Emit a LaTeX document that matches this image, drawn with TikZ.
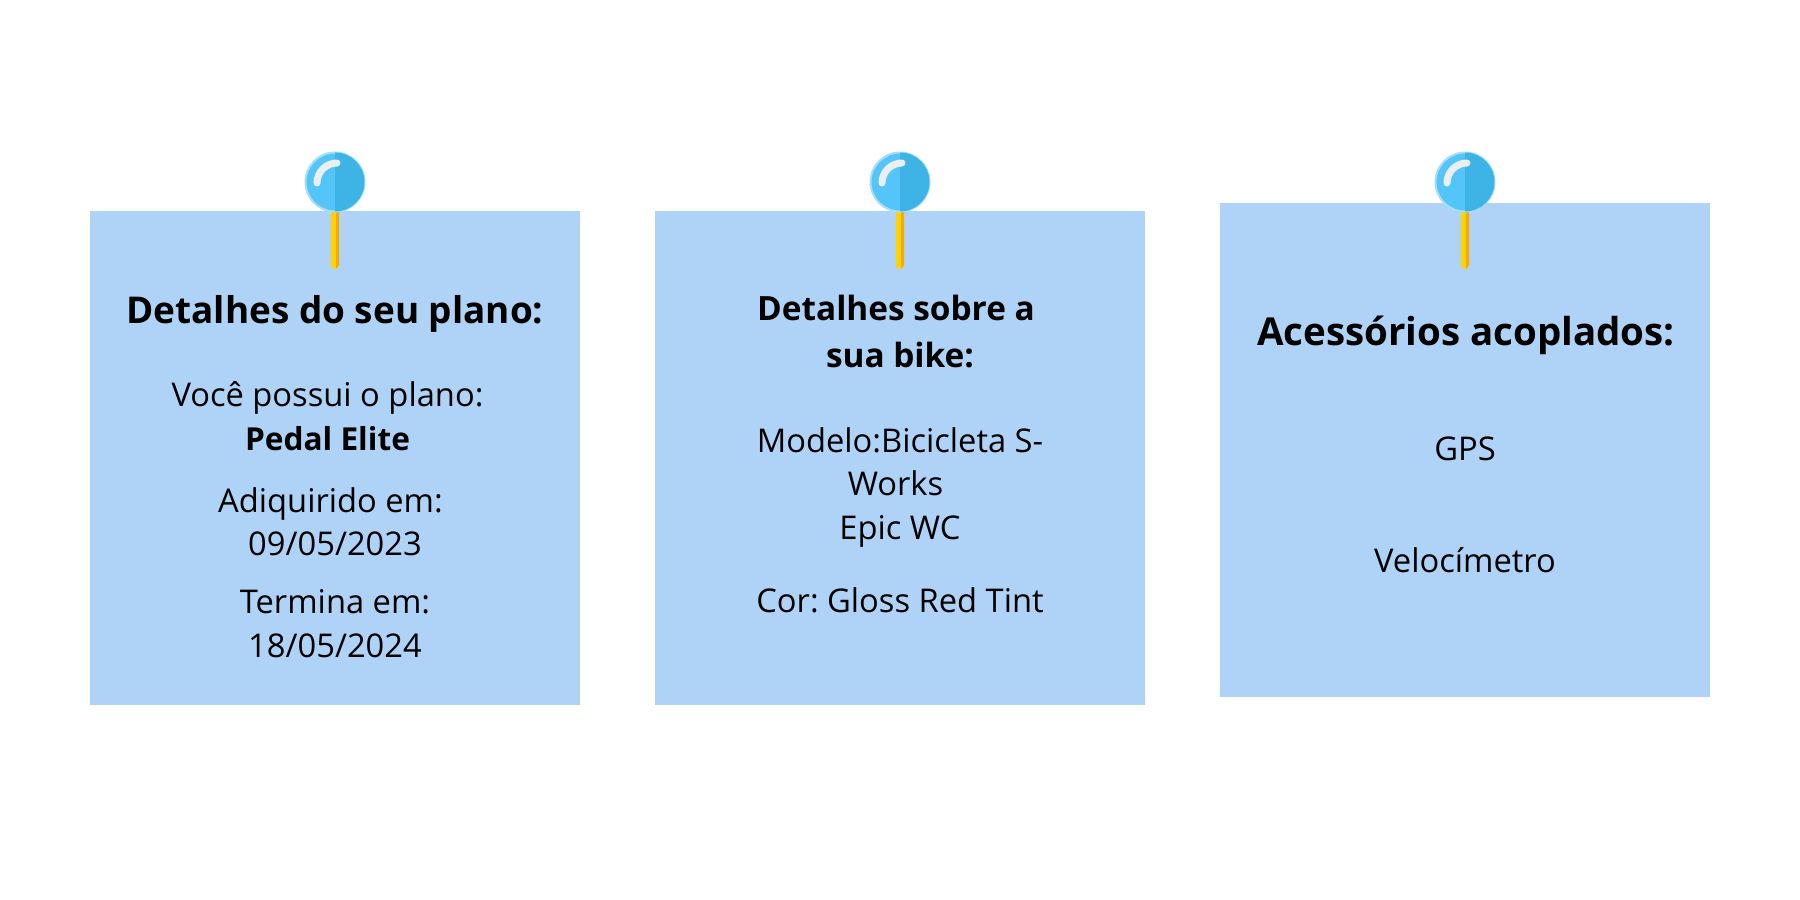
\documentclass[tikz,border=0pt]{standalone}
\usepackage{fontspec}
\setmainfont{Open Sans}
\definecolor{notecol}{HTML}{AFD3F6}
\definecolor{pinlight}{HTML}{54C5F8}
\definecolor{pindark}{HTML}{3DB4E5}
\definecolor{pinedge}{HTML}{A5DEF6}
\definecolor{pinshine}{HTML}{ECEFF1}
\definecolor{stickyellow}{HTML}{FFD200}
\definecolor{stickorange}{HTML}{F5A90F}
\tikzset{
	note/.style = {fill = notecol},
	body/.style = {anchor = base, inner sep = 0pt, font = \fontsize{9.3}{12.5}\selectfont\frenchspacing},
	head/.style = {anchor = base, inner sep = 0pt, font = \fontsize{10.5}{14}\selectfont\bfseries},
	headwide/.style = {anchor = base, inner sep = 0pt, font = \fontsize{10.95}{14}\selectfont\bfseries},
	headsmall/.style = {anchor = base, inner sep = 0pt, font = \fontsize{9.5}{14}\selectfont\bfseries},
	bodybold/.style = {anchor = base, inner sep = 0pt, font = \fontsize{9.0}{12.5}\selectfont\bfseries},
	pinhead/.style = {draw = pinedge, line width = 0.02cm, fill = pinlight},
	stick/.style = {line width = 0.08cm, line cap = round, stickyellow},
	shine/.style = {line width = 0.07cm, line cap = round, pinshine}
}
\begin{document}
\begin{tikzpicture}
	\useasboundingbox (0, 0) rectangle (18, 9);

	\coordinate (n1a) at (0.90, 6.89);
	\coordinate (n1b) at (5.80, 1.95);
	\coordinate (n2a) at (6.55, 6.89);
	\coordinate (n2b) at (11.45, 1.95);
	\coordinate (n3a) at (12.20, 6.97);
	\coordinate (n3b) at (17.10, 2.03);

	\fill [note] (n1a) rectangle (n1b);
	\fill [note] (n2a) rectangle (n2b);
	\fill [note] (n3a) rectangle (n3b);

	% pins
	\begin{scope}[shift = {(3.35, 7.18)}]
		\draw [stick] (0, -0.2) -- (0, -0.83);
		\fill [stickorange] (0.01, -0.2) -- (0.01, -0.87) -- (0.04, -0.83) -- (0.04, -0.2) -- cycle;
		\draw [pinhead] (0, 0) circle (0.295);
		\fill [pindark] (0, -0.295) arc (-90 : 90 : 0.295) -- cycle;
		\draw [shine] (-0.18, -0.01) arc (180 : 90 : 0.2);
	\end{scope}
	\begin{scope}[shift = {(9, 7.18)}]
		\draw [stick] (0, -0.2) -- (0, -0.83);
		\fill [stickorange] (0.01, -0.2) -- (0.01, -0.87) -- (0.04, -0.83) -- (0.04, -0.2) -- cycle;
		\draw [pinhead] (0, 0) circle (0.295);
		\fill [pindark] (0, -0.295) arc (-90 : 90 : 0.295) -- cycle;
		\draw [shine] (-0.18, -0.01) arc (180 : 90 : 0.2);
	\end{scope}
	\begin{scope}[shift = {(14.65, 7.18)}]
		\draw [stick] (0, -0.2) -- (0, -0.83);
		\fill [stickorange] (0.01, -0.2) -- (0.01, -0.87) -- (0.04, -0.83) -- (0.04, -0.2) -- cycle;
		\draw [pinhead] (0, 0) circle (0.295);
		\fill [pindark] (0, -0.295) arc (-90 : 90 : 0.295) -- cycle;
		\draw [shine] (-0.18, -0.01) arc (180 : 90 : 0.2);
	\end{scope}

	% first note
	\node [head] (plano) at (3.35, 5.76) {Detalhes do seu plano:};
	\node [body] (possui) at (3.275, 4.93) {Você possui o plano:};
	\node [bodybold] (elite) at (3.275, 4.49) {Pedal Elite};
	\node [body] (adq) at (3.305, 3.87) {Adiquirido em:};
	\node [body] (adqdata) at (3.35, 3.44) {09/05/2023};
	\node [body] (termina) at (3.35, 2.86) {Termina em:};
	\node [body] (terminadata) at (3.35, 2.42) {18/05/2024};

	% second note
	\node [headsmall] (bike) at (8.96, 5.79) {Detalhes sobre a};
	\node [headsmall] (bikeb) at (9, 5.32) {sua bike:};
	\node [body] (modelo) at (9, 4.47) {Modelo:Bicicleta S-};
	\node [body] (works) at (8.955, 4.04) {Works};
	\node [body] (epic) at (9, 3.60) {Epic WC};
	\node [body] (cor) at (9, 2.87) {Cor: Gloss Red Tint};

	% third note
	\node [headwide] (acess) at (14.66, 5.54) {Acessórios acoplados:};
	\node [body] (gps) at (14.65, 4.39) {GPS};
	\node [body] (velo) at (14.65, 3.28) {Velocímetro};
\end{tikzpicture}
\end{document}
